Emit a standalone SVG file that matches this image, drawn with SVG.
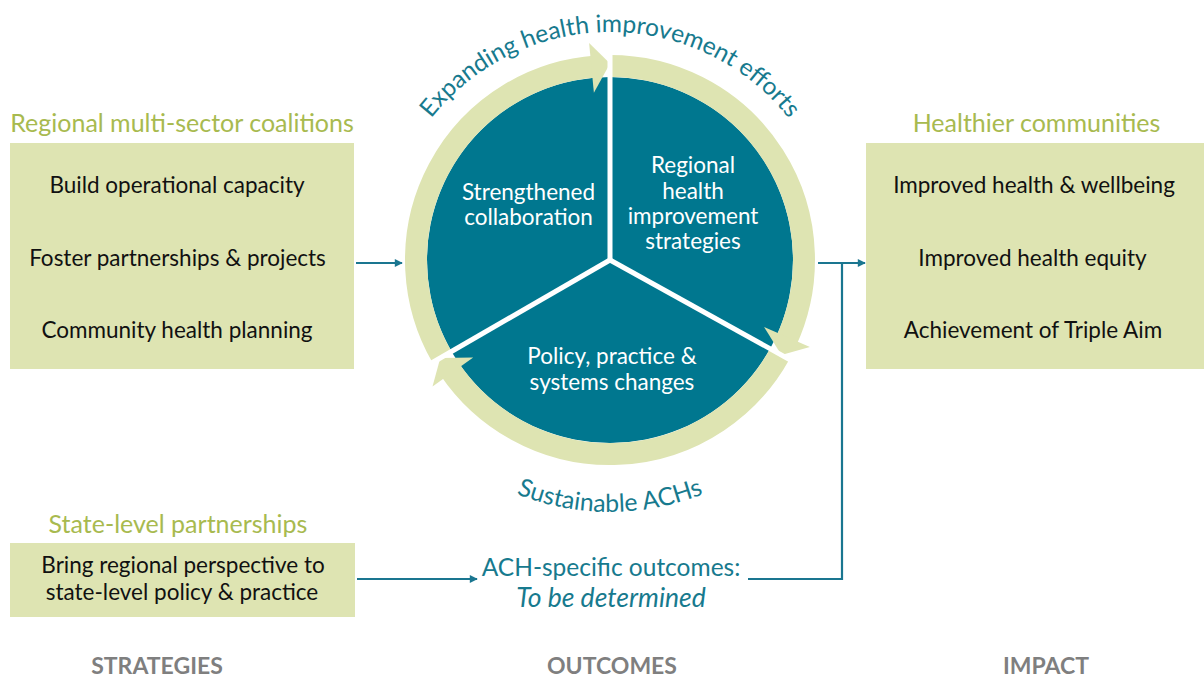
<svg xmlns="http://www.w3.org/2000/svg" width="1204" height="677" viewBox="0 0 1204 677">
<defs>
<style>
.t{font-family:Lato,"Open Sans","Liberation Sans",sans-serif;font-size:22.5px;text-anchor:middle}
.blk{fill:#111}
.wht{fill:#ffffff}
.hd{fill:#a8ba4f;font-size:25px}
.teal{fill:#177a8e}
.arcT{font-size:24.5px}
.arcB{font-size:24.8px}
.ach{font-size:24.5px}
.tbd{font-size:26.5px;font-style:italic}
.lab{fill:#7f7f7f;font-weight:bold;font-size:23px}
.box{fill:#dee4b2}
.ring{fill:none;stroke:#dee4b2;stroke-width:22}
.head{fill:#dee4b2}
.div{stroke:#ffffff;stroke-width:5;stroke-linecap:butt}
.con{fill:none;stroke:#1a7690;stroke-width:2.2}
</style>
<marker id="arr" viewBox="0 0 10 10" refX="9" refY="5" markerWidth="9" markerHeight="8" markerUnits="userSpaceOnUse" orient="auto">
<path d="M0,0 L10,5 L0,10 z" fill="#1a7690"/>
</marker>
<path id="topArc" d="M 382 260 A 228 228 0 0 1 838 260"/>
<path id="botArc" d="M 391.8 386 A 252 252 0 0 0 828.2 386"/>
</defs>
<rect width="1204" height="677" fill="#ffffff"/>

<g id="node-coalitions">
<text class="t hd" x="182" y="132">Regional multi-sector coalitions</text>
<rect class="box" x="10" y="143" width="344" height="226"/>
<text class="t blk" x="177" y="193">Build operational capacity</text>
<text class="t blk" x="177.5" y="266">Foster partnerships &amp; projects</text>
<text class="t blk" x="177" y="338">Community health planning</text>
</g>

<g id="node-impact">
<text class="t hd" x="1036.5" y="132">Healthier communities</text>
<rect class="box" x="866" y="143" width="338" height="226"/>
<text class="t blk" x="1034" y="193">Improved health &amp; wellbeing</text>
<text class="t blk" x="1032.5" y="266">Improved health equity</text>
<text class="t blk" x="1033" y="338">Achievement of Triple Aim</text>
</g>

<g id="node-state">
<text class="t hd" x="178" y="533">State-level partnerships</text>
<rect class="box" x="10" y="543" width="345" height="74"/>
<text class="t blk" x="183" y="573">Bring regional perspective to</text>
<text class="t blk" x="182" y="600">state-level policy &amp; practice</text>
</g>

<g id="node-cycle">
<circle cx="610" cy="260" r="183" fill="#00778f"/>
<path class="ring" d="M 442 357 A 194 194 0 0 1 596.5 66.5"/>
<polygon class="head" points="589.1,43 610,63.5 593.9,92.8"/>
<path class="ring" d="M 610 66 A 194 194 0 0 1 785.8 342"/>
<polygon class="head" points="809.9,346.9 781.4,355 764.1,327"/>
<path class="ring" d="M 779.7 354.1 A 194 194 0 0 1 449.2 368.5"/>
<polygon class="head" points="432.5,386.6 440.3,358 473.2,357.6"/>
<line class="div" x1="610" y1="260" x2="610" y2="46"/>
<line class="div" x1="610" y1="260" x2="798" y2="364.2"/>
<line class="div" x1="610" y1="260" x2="423.8" y2="367.5"/>
<text class="t wht" x="528.5" y="200">Strengthened</text>
<text class="t wht" x="528.5" y="225">collaboration</text>
<text class="t wht" x="693" y="173">Regional</text>
<text class="t wht" x="693" y="199">health</text>
<text class="t wht" x="693" y="224">improvement</text>
<text class="t wht" x="693" y="249">strategies</text>
<text class="t wht" x="612" y="364">Policy, practice &amp;</text>
<text class="t wht" x="612" y="390">systems changes</text>
<text class="t teal arcT"><textPath href="#topArc" startOffset="50%">Expanding health improvement efforts</textPath></text>
<text class="t teal arcB"><textPath href="#botArc" startOffset="50%">Sustainable ACHs</textPath></text>
</g>

<g id="node-ach-outcomes">
<text class="t teal ach" x="611" y="576">ACH-specific outcomes:</text>
<text class="t teal tbd" x="611" y="607">To be determined</text>
</g>

<g id="labels">
<text class="t lab" x="157" y="674">STRATEGIES</text>
<text class="t lab" x="612" y="674">OUTCOMES</text>
<text class="t lab" x="1046" y="674">IMPACT</text>
</g>

<g id="connectors">
<path class="con" d="M 356 263 H 402" marker-end="url(#arr)"/>
<path class="con" d="M 818 263 H 865" marker-end="url(#arr)"/>
<path class="con" d="M 357 579 H 477" marker-end="url(#arr)"/>
<path class="con" d="M 748 579 H 842 V 263"/>
</g>
</svg>
